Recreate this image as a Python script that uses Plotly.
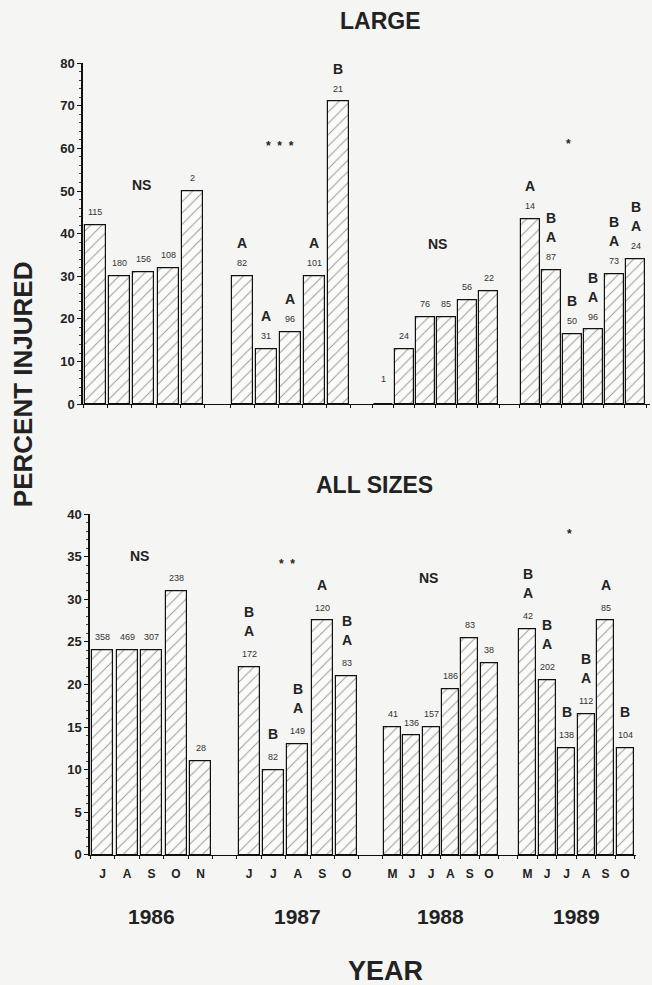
import plotly.graph_objects as go

W, H = 652, 985
FONT = "Liberation Sans, Arial, Helvetica, sans-serif"
BG = "#f5f5f3"

# ---- data ----
years = ["1986", "1987", "1988", "1989"]
months = [["J", "A", "S", "O", "N"],
          ["J", "J", "A", "S", "O"],
          ["M", "J", "J", "A", "S", "O"],
          ["M", "J", "J", "A", "S", "O"]]

# LARGE panel: percent injured, sample size, group letters (top->bottom), test result
large_pct = [[42, 30, 31, 32, 50],
             [30, 13, 17, 30, 71],
             [0, 13, 20.5, 20.5, 24.5, 26.5],
             [43.5, 31.5, 16.5, 17.5, 30.5, 34]]
large_n = [[115, 180, 156, 108, 2],
           [82, 31, 96, 101, 21],
           [1, 24, 76, 85, 56, 22],
           [14, 87, 50, 96, 73, 24]]
large_grp = [["", "", "", "", ""],
             ["A", "A", "A", "A", "B"],
             ["", "", "", "", "", ""],
             ["A", "BA", "B", "BA", "BA", "BA"]]
large_sig = ["NS", "* * *", "NS", "*"]

# ALL SIZES panel
all_pct = [[24, 24, 24, 31, 11],
           [22, 10, 13, 27.5, 21],
           [15, 14, 15, 19.5, 25.5, 22.5],
           [26.5, 20.5, 12.5, 16.5, 27.5, 12.5]]
all_n = [[358, 469, 307, 238, 28],
         [172, 82, 149, 120, 83],
         [41, 136, 157, 186, 83, 38],
         [42, 202, 138, 112, 85, 104]]
all_grp = [["", "", "", "", ""],
           ["BA", "B", "BA", "A", "BA"],
           ["", "", "", "", "", ""],
           ["BA", "BA", "B", "BA", "A", "B"]]
all_sig = ["NS", "* *", "NS", "*"]

# ---- layout of the panels (x axis is in page pixels) ----
top = dict(xa="x", ya="y", xdom=(83, 650), ydom=(403.3, 57), yr=80,
           start=[95.5, 242, 383, 530], step=[24.2, 24, 21.1, 21.1], width=[21, 21, 19, 19],
           sig_y=[51.3, 60.5, 37.5, 61], sig_dx=[-2, -10, 2, -14],
           nshift=13, lshift=33, lgap=19)
bot = dict(xa="x2", ya="y2", xdom=(90, 636), ydom=(861, 515), yr=40,
           start=[102.5, 249, 392.5, 527.5], step=[24.5, 24.4, 19.3, 19.5], width=[21, 21, 17, 17],
           sig_y=[35.1, 34.1, 32.5, 37.7], sig_dx=[-12, -11, -12, -7],
           nshift=13, lshift=36, lgap=19)

fig = go.Figure()
annots = []


def add_panel(p, pct, n, grp, sig):
    centers, bounds = [], []
    for g in range(len(pct)):
        xs = [p["start"][g] + i * p["step"][g] for i in range(len(pct[g]))]
        centers += xs
        bounds += [x - p["step"][g] / 2 for x in xs] + [xs[-1] + p["step"][g] / 2]
        fig.add_trace(go.Bar(
            x=xs, y=pct[g], width=p["width"][g], xaxis=p["xa"], yaxis=p["ya"],
            marker=dict(color="#fbfbf9", line=dict(color="#111", width=1.2),
                        pattern=dict(shape="/", fgcolor="#333", bgcolor="#fbfbf9",
                                     size=8, solidity=0.12)),
            showlegend=False, hoverinfo="skip"))
        for i, x in enumerate(xs):
            annots.append(dict(x=x, y=pct[g][i], xref=p["xa"], yref=p["ya"],
                               text=str(n[g][i]), showarrow=False,
                               yshift=p["nshift"] + (12 if pct[g][i] == 0 else 0),
                               font=dict(size=9, color="#333", family=FONT)))
            for k, ch in enumerate(reversed(grp[g][i])):
                annots.append(dict(x=x, y=pct[g][i], xref=p["xa"], yref=p["ya"],
                                   text="<b>%s</b>" % ch, showarrow=False,
                                   yshift=p["lshift"] + k * p["lgap"],
                                   font=dict(size=14, color="#222", family=FONT)))
        mid = (xs[0] + xs[-1]) / 2 + p["sig_dx"][g]
        label = sig[g].replace(" ", "\u00a0\u00a0")
        annots.append(dict(x=mid, y=p["sig_y"][g], xref=p["xa"], yref=p["ya"],
                           text="<b>%s</b>" % label, showarrow=False,
                           font=dict(size=14 if sig[g] == "NS" else 12, color="#222", family=FONT)))
    return centers, bounds


top_c, top_b = add_panel(top, large_pct, large_n, large_grp, large_sig)
bot_c, bot_b = add_panel(bot, all_pct, all_n, all_grp, all_sig)


def xdom(p):
    return [p["xdom"][0] / W, p["xdom"][1] / W]


def ydom(p):
    return [1 - p["ydom"][0] / H, 1 - p["ydom"][1] / H]


yaxis_common = dict(showline=True, linecolor="#111", linewidth=1.5, ticks="outside",
                    ticklen=4, tickwidth=1.2, tickcolor="#111", showgrid=False, zeroline=False,
                    tickfont=dict(size=13, color="#222", family=FONT, weight="bold"))

fig.update_layout(
    width=W, height=H, margin=dict(l=0, r=0, t=0, b=0),
    paper_bgcolor=BG, plot_bgcolor="rgba(0,0,0,0)",
    bargap=0,
    xaxis=dict(domain=xdom(top), range=list(top["xdom"]), anchor="y",
               showline=True, linecolor="#111", linewidth=1.3, showgrid=False, zeroline=False,
               showticklabels=False, ticks="",
               minor=dict(tickvals=top_b, ticks="outside", ticklen=3, tickcolor="#111")),
    yaxis=dict(domain=ydom(top), range=[0, top["yr"]], anchor="x",
               tickvals=list(range(0, 81, 10)),
               minor=dict(ticks="outside", ticklen=2, dtick=2, tickcolor="#444"),
               **yaxis_common),
    xaxis2=dict(domain=xdom(bot), range=list(bot["xdom"]), anchor="y2",
                showline=True, linecolor="#111", linewidth=1.3, showgrid=False, zeroline=False,
                tickvals=bot_c, ticktext=sum(months, []), ticks="outside", ticklen=8,
                tickcolor="rgba(0,0,0,0)",
                tickfont=dict(size=12, color="#222", family=FONT, weight="bold"),
                minor=dict(tickvals=bot_b, ticks="outside", ticklen=3, tickcolor="#111")),
    yaxis2=dict(domain=ydom(bot), range=[0, bot["yr"]], anchor="x2",
                tickvals=list(range(0, 41, 5)),
                minor=dict(ticks="outside", ticklen=2, dtick=1, tickcolor="#444"),
                **yaxis_common),
)


def page_text(x, y, text, size, **kw):
    annots.append(dict(x=x / W, y=1 - y / H, xref="paper", yref="paper",
                       xanchor="center", yanchor="middle", text="<b>%s</b>" % text,
                       showarrow=False, font=dict(size=size, color="#222", family=FONT), **kw))


# titles and year labels
page_text(380, 14, "LARGE", 23)
page_text(374, 485, "ALL SIZES", 23)
page_text(23, 383, "PERCENT INJURED", 26, textangle=-90)
page_text(385, 979, "YEAR", 27)
for g, yr in enumerate(years):
    xs = [bot["start"][g] + i * bot["step"][g] for i in range(len(months[g]))]
    annots.append(dict(x=(xs[0] + xs[-1]) / 2, y=1 - 924 / H, xref="x2", yref="paper",
                       xanchor="center", yanchor="middle",
                       text="<b>%s</b>" % yr, showarrow=False,
                       font=dict(size=21, color="#222", family=FONT)))

fig.update_layout(annotations=annots)
fig.write_html("out.html", config={"displayModeBar": False},
               post_script="document.body.style.margin='0';"
                           "document.body.style.overflow='hidden';"
                           "document.body.style.background='%s';" % BG)
